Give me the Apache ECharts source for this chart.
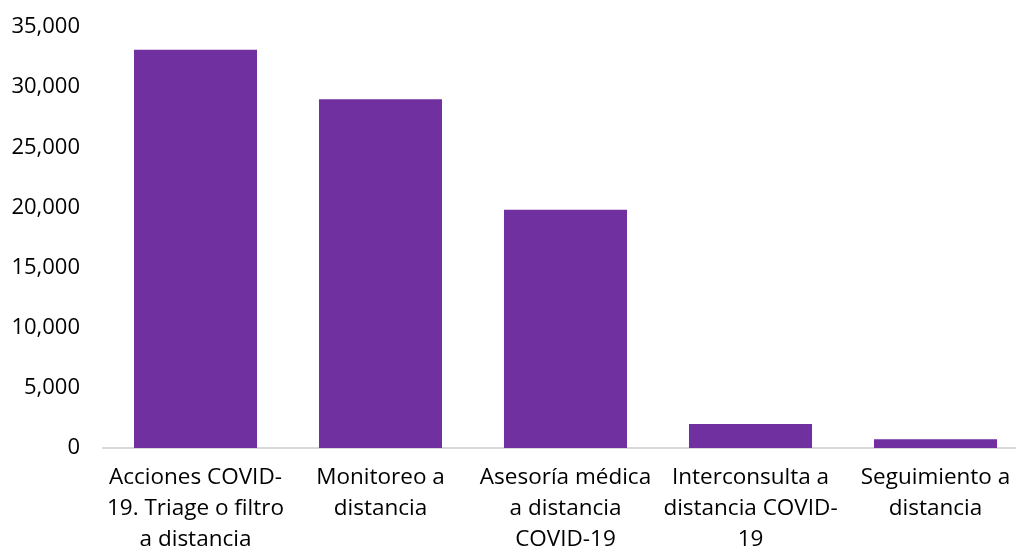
<!DOCTYPE html>
<html>
<head>
<meta charset="utf-8">
<script src="https://cdn.jsdelivr.net/npm/echarts@6/dist/echarts.min.js"></script>
<style>
  html, body { margin: 0; padding: 0; background: #ffffff; }
  #chart { width: 1016px; height: 548px; }
</style>
</head>
<body>
<div id="chart"></div>
<script>
// Telemedicine actions by type
const categories = [
  'Acciones COVID-\n19. Triage o filtro\na distancia',
  'Monitoreo a\ndistancia',
  'Asesoría médica\na distancia\nCOVID-19',
  'Interconsulta a\ndistancia COVID-\n19',
  'Seguimiento a\ndistancia'
];
const values = [33100, 29000, 19800, 2000, 720];
const yTicks = { min: 0, max: 35000, interval: 5000 };

const chart = echarts.init(document.getElementById('chart'), null, { renderer: 'canvas' });
const font = 'Open Sans';

chart.setOption({
  animation: false,
  backgroundColor: '#ffffff',
  // plot area runs slightly past the right edge of the canvas
  grid: {
    left: 103, top: 27, width: 925, height: 421,
    containLabel: false,
    outerBoundsMode: 'none'
  },
  xAxis: {
    type: 'category',
    data: categories,
    axisLine: { lineStyle: { color: '#d9d9d9', width: 2 } },
    axisTick: { show: false },
    axisLabel: {
      interval: 0,
      color: '#000000',
      fontFamily: font,
      fontSize: 22.5,
      lineHeight: 31,
      margin: 14
    }
  },
  yAxis: {
    type: 'value',
    min: yTicks.min,
    max: yTicks.max,
    interval: yTicks.interval,
    splitLine: { show: false },
    axisLine: { show: false },
    axisTick: { show: false },
    axisLabel: {
      color: '#000000',
      fontFamily: font,
      fontSize: 22,
      margin: 23,
      formatter: v => v.toLocaleString('en-US')
    }
  },
  series: [{
    type: 'bar',
    data: values,
    barCategoryGap: '33.5%',
    itemStyle: { color: '#7030a0' }
  }]
});
</script>
</body>
</html>
